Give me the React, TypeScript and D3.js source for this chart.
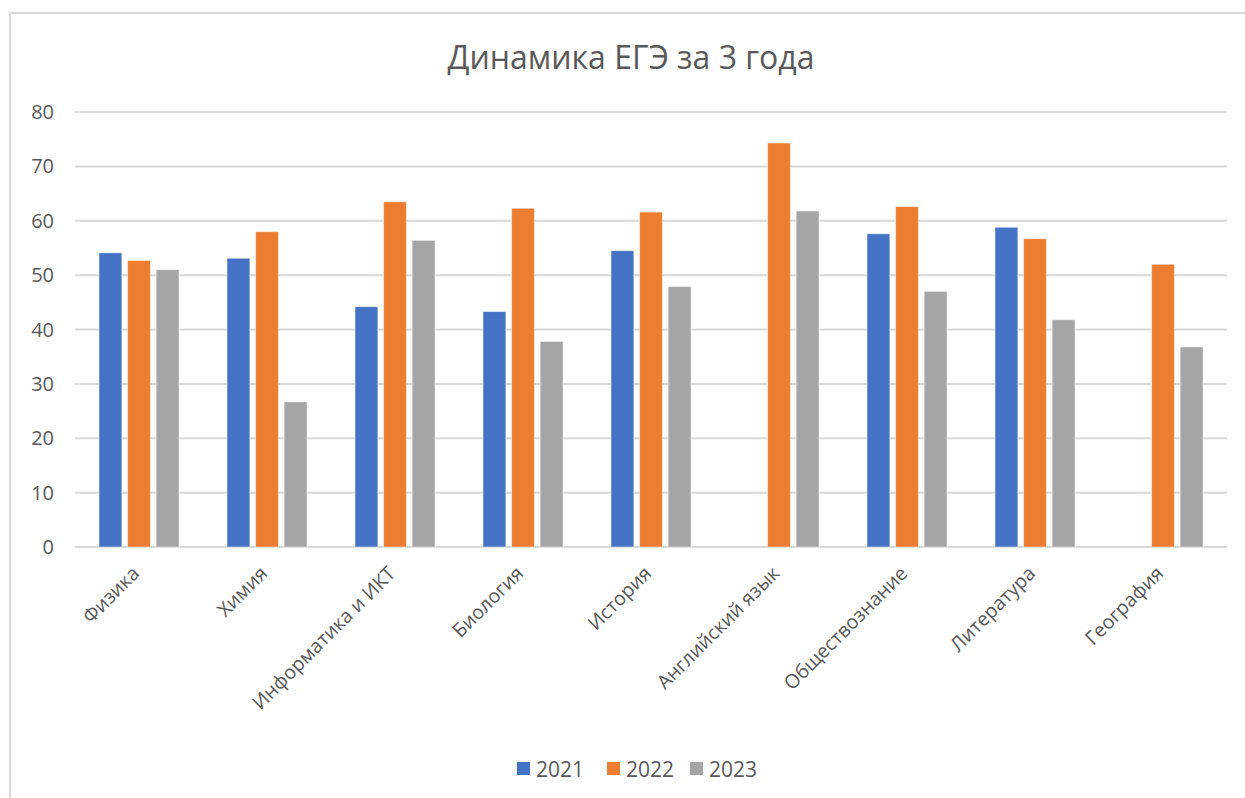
import React from "react";
import * as d3 from "d3";

const categories = [
  "Физика",
  "Химия",
  "Информатика и ИКТ",
  "Биология",
  "История",
  "Английский язык",
  "Обществознание",
  "Литература",
  "География",
];
const seriesNames = ["2021", "2022", "2023"];
const values2021: (number | null)[] = [54.1, 53.1, 44.2, 43.3, 54.5, null, 57.6, 58.8, null];
const values2022: (number | null)[] = [52.7, 58.0, 63.5, 62.3, 61.6, 74.3, 62.6, 56.7, 52.0];
const values2023: (number | null)[] = [51.0, 26.7, 56.4, 37.8, 47.9, 61.8, 47.0, 41.8, 36.8];
const yTicks = [0, 10, 20, 30, 40, 50, 60, 70, 80];
const colors = ["#4472C4", "#ED7D31", "#A5A5A5"];
const title = "Динамика ЕГЭ за 3 года";

const W = 1245;
const H = 798;
const FONT = "'Open Sans', 'Noto Sans', sans-serif";

export default function App() {
  const series = [values2021, values2022, values2023];
  const x0 = d3
    .scaleBand<string>()
    .domain(categories)
    .range([75, 1227])
    .paddingInner(0.375)
    .paddingOuter(0.1875);
  const x1 = d3
    .scaleBand<string>()
    .domain(seriesNames)
    .range([0, x0.bandwidth()])
    .paddingInner(0.2)
    .paddingOuter(0);
  const y = d3.scaleLinear().domain([0, 80]).range([547, 112]);

  const legendX = [517, 607, 690];

  return (
    <svg
      width={W}
      height={H}
      style={{ position: "absolute", left: 0, top: 0, background: "#fff" }}
      fontFamily={FONT}
    >
      <rect x={0} y={0} width={W} height={H} fill="#fff" />
      <rect x={10} y={13} width={1400} height={1000} fill="none" stroke="#D9D9D9" strokeWidth={2} />
      <text x={631} y={69} textAnchor="middle" fontSize={32} fill="#595959">
        {title}
      </text>
      {yTicks.map((t) => (
        <g key={t}>
          <line x1={75} x2={1227} y1={y(t)} y2={y(t)} stroke="#D9D9D9" strokeWidth={2} />
          <text x={54} y={y(t)} dy="0.35em" textAnchor="end" fontSize={20} fill="#595959">
            {t}
          </text>
        </g>
      ))}
      {categories.map((c, i) => (
        <g key={c}>
          {series.map((vals, s) => {
            const v = vals[i];
            if (v === null || v === undefined) return null;
            const bx = (x0(c) ?? 0) + (x1(seriesNames[s]) ?? 0);
            return (
              <rect
                key={s}
                x={bx}
                y={y(v)}
                width={x1.bandwidth()}
                height={y(0) - y(v)}
                fill={colors[s]}
                stroke="#ffffff"
                strokeOpacity={0.5}
                strokeWidth={1}
              />
            );
          })}
        </g>
      ))}
      {categories.map((c) => {
        const cx = (x0(c) ?? 0) + x0.bandwidth() / 2 - 8;
        const cy = 565;
        return (
          <text
            key={c}
            x={cx}
            y={cy}
            textAnchor="end"
            fontSize={19.5}
            fill="#595959"
            transform={`rotate(-45, ${cx}, ${cy})`}
            dy="0.7em"
          >
            {c}
          </text>
        );
      })}
      {seriesNames.map((n, s) => (
        <g key={n}>
          <rect x={legendX[s]} y={762} width={13} height={13} fill={colors[s]} />
          <text x={legendX[s] + 19} y={769} dy="0.36em" fontSize={21} fill="#595959">
            {n}
          </text>
        </g>
      ))}
    </svg>
  );
}
